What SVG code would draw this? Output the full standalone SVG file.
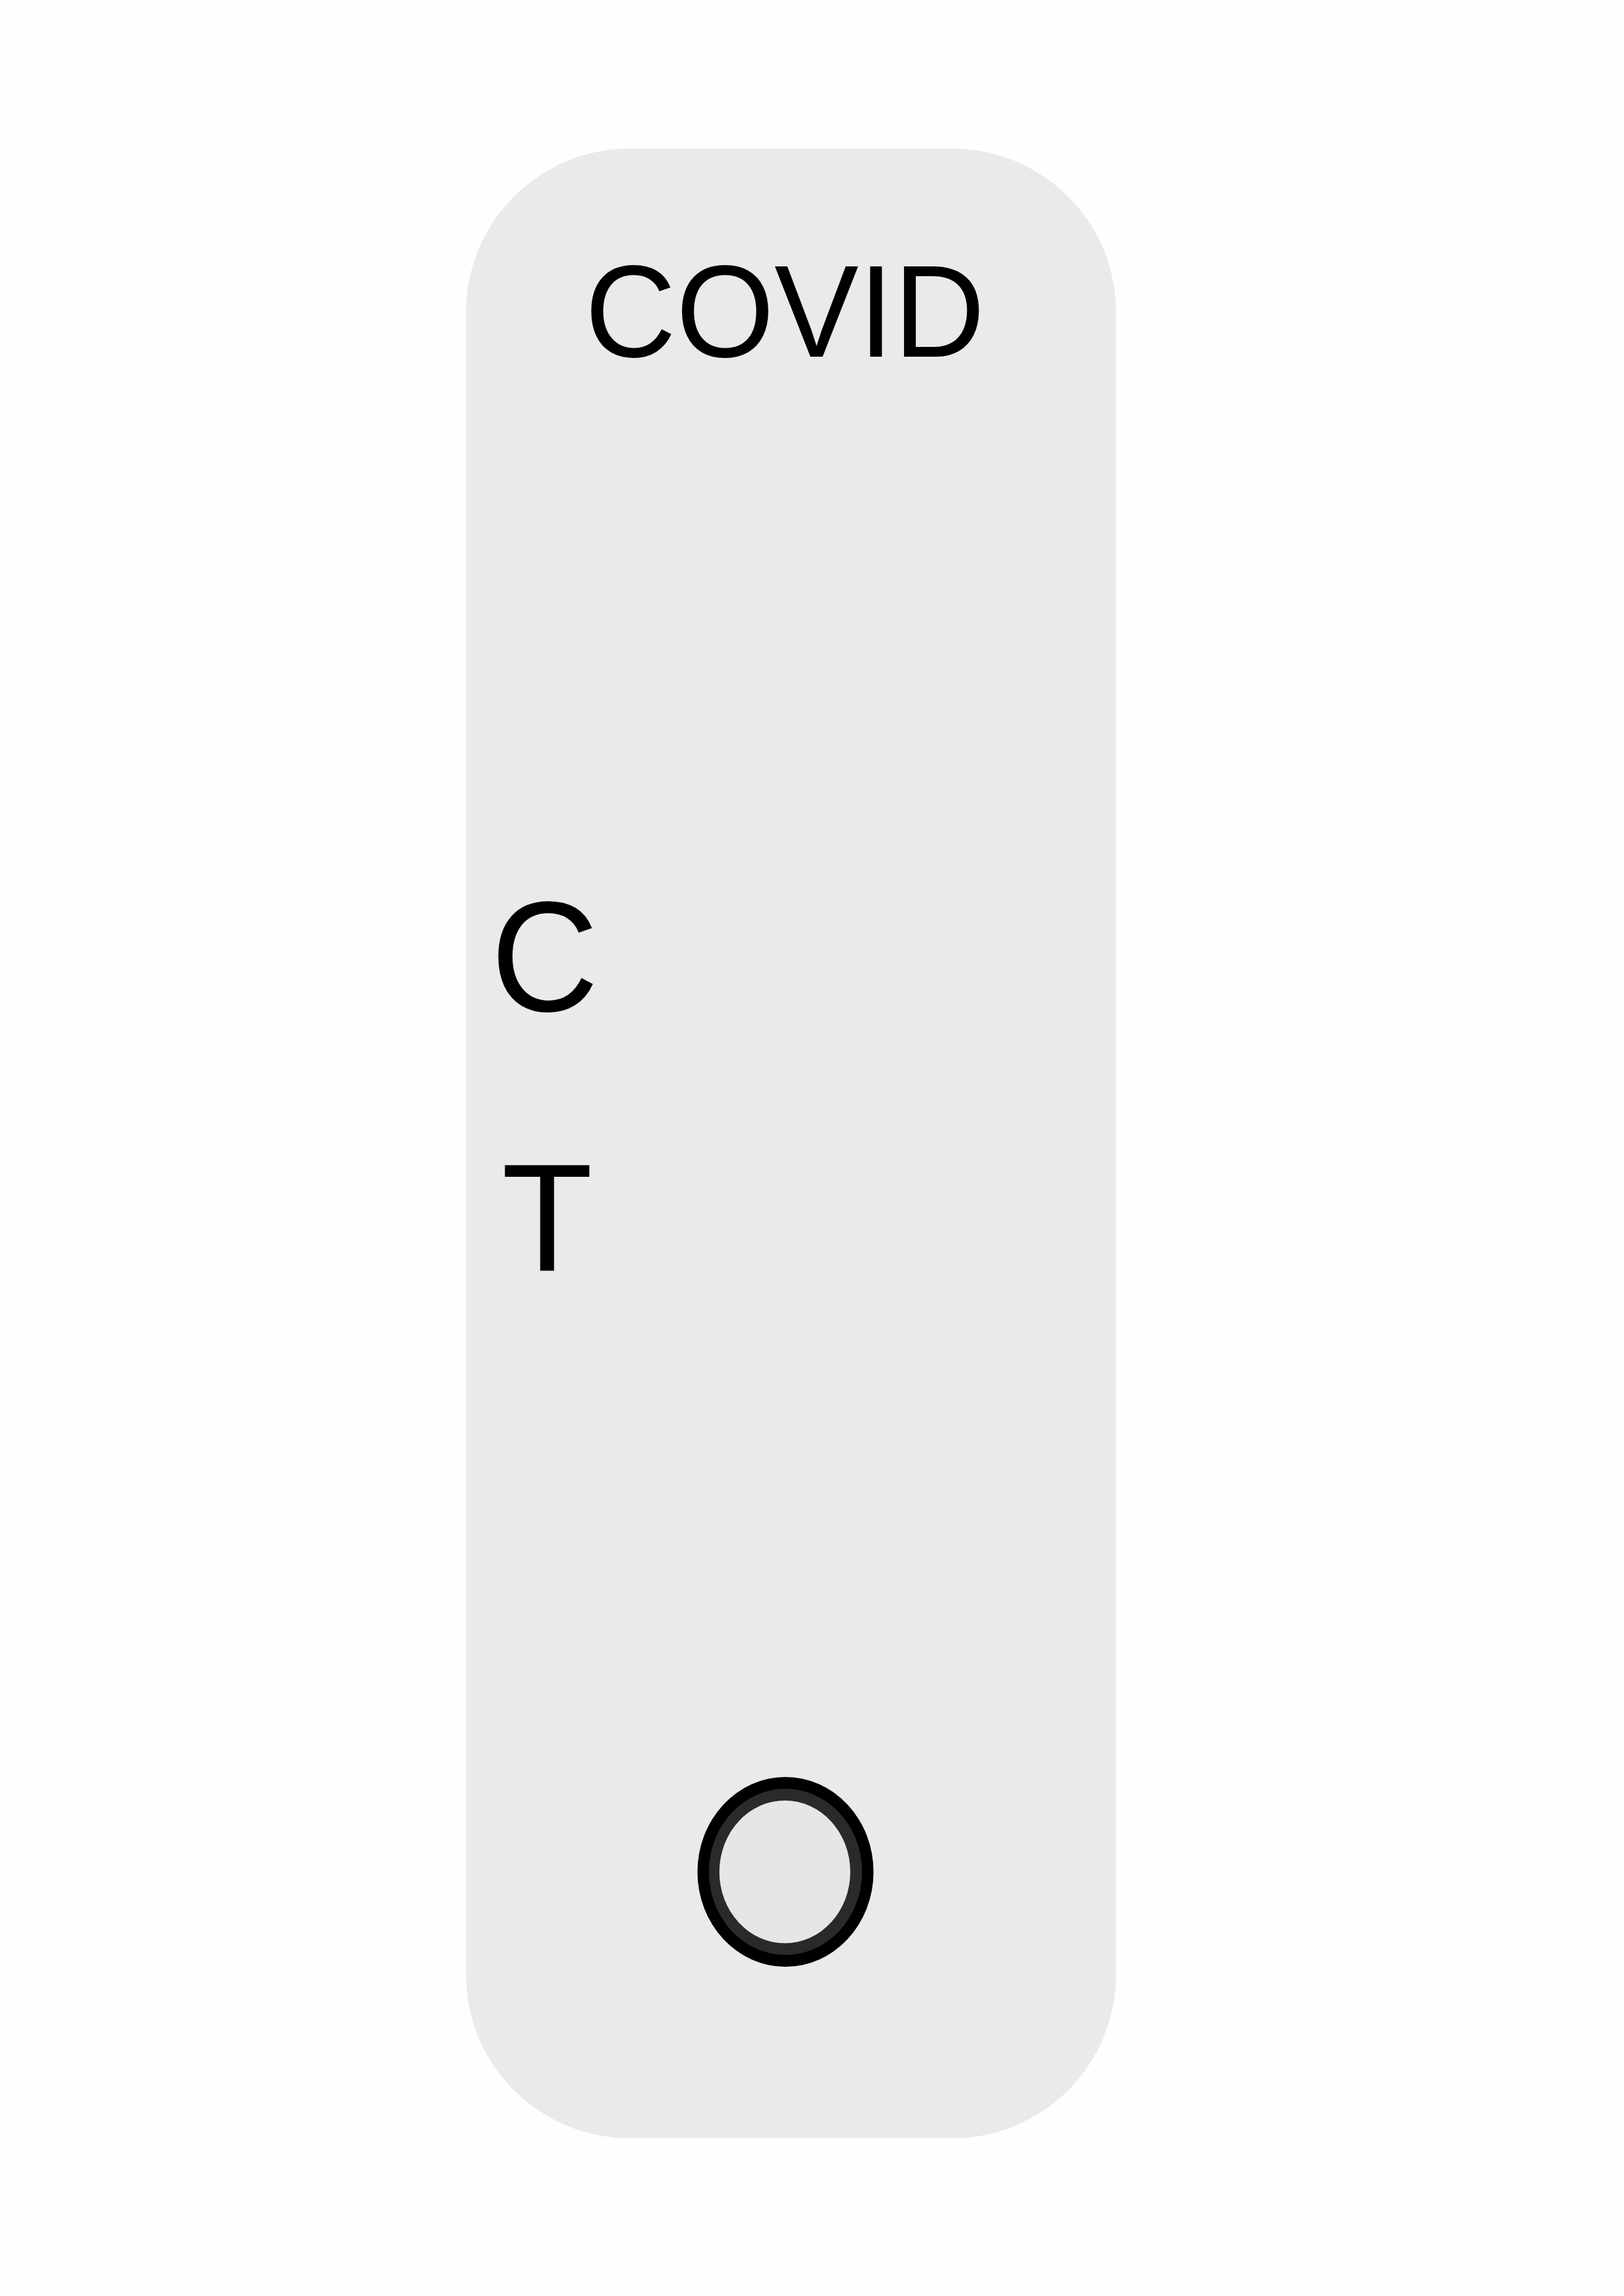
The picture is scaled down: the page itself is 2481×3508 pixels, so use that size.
<svg xmlns="http://www.w3.org/2000/svg" width="2481" height="3508" viewBox="0 0 2481 3508">
<style>
.lbl{font-family:"Liberation Sans",Arial,sans-serif;fill:#000;text-anchor:middle}
</style>
<rect width="2481" height="3508" fill="#fefefe"/>
<g id="cassette">
<rect x="712" y="227" width="993" height="3040" rx="250" ry="250" fill="#eaeaea"/>
</g>
<g id="title">
<text class="lbl" transform="translate(1199,545) scale(1,1.04)" font-size="193">COVID</text>
</g>
<g id="control-label">
<text class="lbl" transform="translate(832,1545) scale(1,1.05)" font-size="228">C</text>
</g>
<g id="test-label">
<text class="lbl" transform="translate(836,1941) scale(1,1.03)" font-size="228">T</text>
</g>
<g id="sample-well">
<ellipse cx="1200" cy="2860" rx="134.5" ry="145" fill="#000"/>
<ellipse cx="1200" cy="2860" rx="117" ry="127" fill="#2b292a"/>
<ellipse cx="1199" cy="2860" rx="100" ry="109" fill="#e6e6e6"/>
</g>
<g id="connectors"/>
</svg>
